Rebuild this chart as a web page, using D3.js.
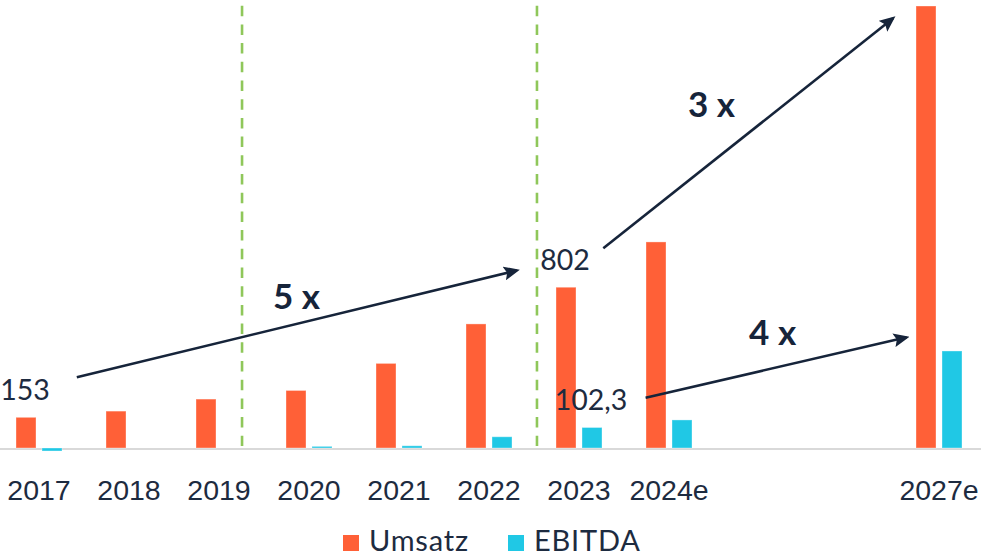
<!DOCTYPE html>
<html>
<head>
<meta charset="utf-8">
<script src="https://cdn.jsdelivr.net/npm/d3@7"></script>
<style>
    body { margin: 0; background: #ffffff; }
    svg { display: block; font-family: Lato, "Open Sans", sans-serif; }
    .tick text, .valueLabel { fill: #1d2b40; font-size: 28.5px; }
    .legendText { fill: #1d2b40; font-size: 29px; letter-spacing: 0.8px; }
    .factorLabel { fill: #16243a; font-size: 35px; font-weight: 700; }
</style>
</head>
<body>
<script>
(function(){

    //chart data
    var categories = ["2017", "2018", "2019", "2020", "2021", "2022", "2023", "2024e", "2025e", "2026e", "2027e"];
    var tickLabels = ["2017", "2018", "2019", "2020", "2021", "2022", "2023", "2024e", "", "", "2027e"];
    var umsatz = [153, 184, 244, 287, 422, 619, 802, 1028, null, null, 2205];
    var ebitda = [-15, null, null, 8, 11, 56, 102.3, 140, null, null, 484];
    var seriesNames = ["Umsatz", "EBITDA"];

    //value labels shown on the chart [category, series, text]
    var valueLabels = [["2017", "Umsatz", "153"], ["2023", "Umsatz", "802"], ["2023", "EBITDA", "102,3"]];

    //growth arrows in data units: [startIndex, startValue, endIndex, endValue, label, labelIndex, labelValue]
    var growthArrows = [
        [0.42, 353, 5.31, 886, "5 x", 2.6, 693],
        [6.27, 996, 9.49, 2144, "3 x", 7.21, 1651],
        [6.74, 251, 9.64, 552, "4 x", 7.89, 514]
    ];
    //green dashed dividers, in category index units
    var dividers = [2.256, 5.533];

    var width = 981,
        height = 558,
        yMax = 2210;

    var colors = { "Umsatz": "#ff6037", "EBITDA": "#20c8e5" };

    var svg = d3.select("body")
        .append("svg")
        .attr("width", width)
        .attr("height", height);

    //scales
    var x0 = d3.scaleBand()
        .domain(categories)
        .range([-6, 984])
        .padding(0);

    var x1 = d3.scaleBand()
        .domain(seriesNames)
        .range([x0.bandwidth() / 2 - 23, x0.bandwidth() / 2 + 23])
        .paddingInner(0.2308);

    //index -> pixel position of category centres
    var xi = d3.scaleLinear()
        .domain([0, categories.length - 1])
        .range([x0(categories[0]) + x0.bandwidth() / 2, x0(categories[categories.length - 1]) + x0.bandwidth() / 2]);

    var yScale = d3.scaleLinear()
        .domain([0, yMax])
        .range([448, 5]);

    //dashed dividers
    svg.selectAll(".divider")
        .data(dividers)
        .enter()
        .append("line")
        .attr("class", "divider")
        .attr("x1", function(d){ return xi(d); })
        .attr("x2", function(d){ return xi(d); })
        .attr("y1", yScale(yMax) + 0.7)
        .attr("y2", yScale(0) - 2)
        .attr("stroke", "#8fc75a")
        .attr("stroke-width", 2.6)
        .attr("stroke-dasharray", "10.5 8.2");

    //category axis, the domain line is the grey baseline
    var xAxis = d3.axisBottom(x0)
        .tickSize(0)
        .tickSizeOuter(0)
        .tickFormat(function(d, i){ return tickLabels[i]; });

    var axis = svg.append("g")
        .attr("class", "axis")
        .attr("transform", "translate(0," + (yScale(0) + 1) + ")")
        .call(xAxis);

    axis.select(".domain")
        .attr("stroke", "#d9d9d9")
        .attr("stroke-width", 2)
        .attr("d", "M0,0H" + width);

    axis.selectAll("text")
        .attr("y", 51)
        .attr("dy", 0)
        .attr("font-size", null)
        .attr("font-family", null);

    //bars
    var rows = categories.map(function(c, i){
        return { cat: c, values: [
            { name: "Umsatz", value: umsatz[i] },
            { name: "EBITDA", value: ebitda[i] }
        ]};
    });

    var groups = svg.selectAll(".group")
        .data(rows)
        .enter()
        .append("g")
        .attr("class", "group")
        .attr("transform", function(d){ return "translate(" + x0(d.cat) + ",0)"; });

    groups.selectAll("rect")
        .data(function(d){ return d.values.filter(function(v){ return v.value != null; }); })
        .enter()
        .append("rect")
        .attr("x", function(d){ return x1(d.name); })
        .attr("width", x1.bandwidth())
        .attr("y", function(d){ return yScale(Math.max(0, d.value)); })
        .attr("height", function(d){ return Math.abs(yScale(d.value) - yScale(0)); })
        .attr("fill", function(d){ return colors[d.name]; })
        .attr("stroke", "rgba(255,255,255,0.35)")
        .attr("stroke-width", 1);

    //value labels
    svg.selectAll(".valueLabel")
        .data(valueLabels)
        .enter()
        .append("text")
        .attr("class", "valueLabel")
        .attr("text-anchor", "middle")
        .attr("x", function(d){ return x0(d[0]) + x1(d[1]) + x1.bandwidth() / 2 - 1; })
        .attr("y", function(d){
            var i = categories.indexOf(d[0]);
            var v = d[1] == "Umsatz" ? umsatz[i] : ebitda[i];
            return yScale(v) - 17;
        })
        .text(function(d){ return d[2]; });

    //arrow marker
    svg.append("defs")
        .append("marker")
        .attr("id", "arrowHead")
        .attr("markerUnits", "userSpaceOnUse")
        .attr("markerWidth", 16)
        .attr("markerHeight", 14)
        .attr("refX", 13)
        .attr("refY", 7)
        .attr("orient", "auto")
        .append("path")
        .attr("d", "M0,0 L16,7 L0,14 L3,7 Z")
        .attr("fill", "#16243a");

    svg.selectAll(".growthArrow")
        .data(growthArrows)
        .enter()
        .append("line")
        .attr("class", "growthArrow")
        .attr("x1", function(d){ return xi(d[0]); })
        .attr("y1", function(d){ return yScale(d[1]); })
        .attr("x2", function(d){ return xi(d[2]); })
        .attr("y2", function(d){ return yScale(d[3]); })
        .attr("stroke", "#16243a")
        .attr("stroke-width", 2.6)
        .attr("marker-end", "url(#arrowHead)");

    svg.selectAll(".factorLabel")
        .data(growthArrows)
        .enter()
        .append("text")
        .attr("class", "factorLabel")
        .attr("x", function(d){ return xi(d[5]); })
        .attr("y", function(d){ return yScale(d[6]); })
        .text(function(d){ return d[4]; });

    //legend
    var legendX = d3.scaleOrdinal()
        .domain(seriesNames)
        .range([343, 508]);

    var legend = svg.selectAll(".legendItem")
        .data(seriesNames)
        .enter()
        .append("g")
        .attr("class", "legendItem")
        .attr("transform", function(d){ return "translate(" + legendX(d) + ",535)"; });

    legend.append("rect")
        .attr("width", 16)
        .attr("height", 16)
        .attr("fill", function(d){ return colors[d]; });

    legend.append("text")
        .attr("class", "legendText")
        .attr("x", 26)
        .attr("y", 16)
        .text(function(d){ return d; });

})();
</script>
</body>
</html>
